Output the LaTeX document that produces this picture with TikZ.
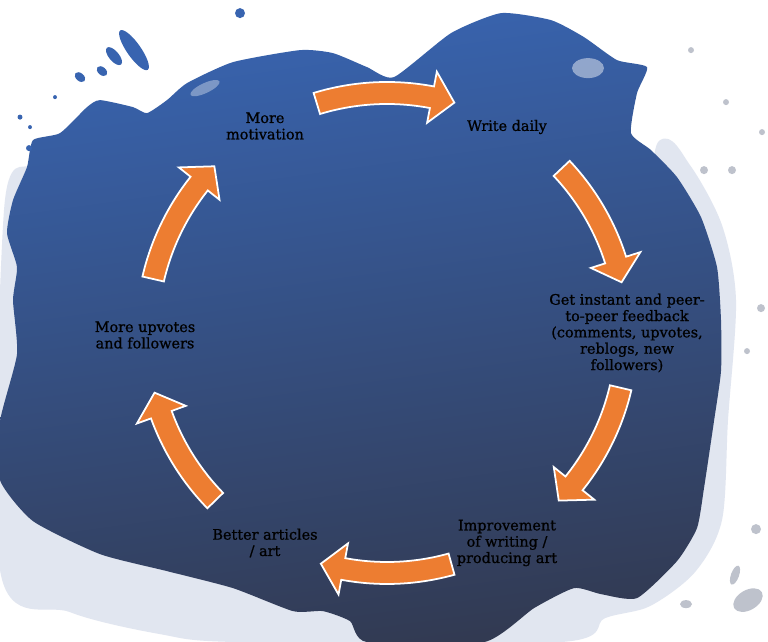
\documentclass[tikz,border=0pt]{standalone}
\usepackage{fontspec}
\setmainfont{DejaVu Serif}
\newfontfamily\stagefont[FakeBold=0.9]{DejaVu Serif}
\usetikzlibrary{calc}
\definecolor{splashtop}{RGB}{56,100,176}
\definecolor{splashbot}{RGB}{50,58,82}
\definecolor{cycleorange}{RGB}{237,125,49}
\definecolor{speck}{RGB}{170,184,214}
\definecolor{greydrop}{RGB}{190,194,204}

\tikzset{
  stage/.style={align=center, font=\stagefont\fontsize{8.2}{9.3}\selectfont, text=black, inner sep=1pt},
  bentarrow/.style={fill=cycleorange, draw=white, line width=1pt, line join=miter},
}
% curved block arrow on the cycle: #1 tail angle, #2 tip angle
\newcommand{\cyclearrow}[2]{%
  \pgfmathsetmacro{\headbase}{#2+5.5}%
  \draw[bentarrow] ($(C)+(#1:251)$) arc[start angle=#1, end angle=\headbase, radius=251]
    -- ($(C)+(\headbase:266)$) -- ($(C)+(#2:240)$) -- ($(C)+(\headbase:214)$)
    -- ($(C)+(\headbase:229)$) arc[start angle=\headbase, end angle=#1, radius=229] -- cycle;}

\begin{document}
\begin{tikzpicture}[x=0.02cm, y=0.02cm]
\fill[white] (0,0) rectangle (768,642);
\useasboundingbox (0,0) rectangle (768,642);

% Splash (pixel coordinates, y down)
\begin{scope}[y=-0.02cm, shift={(0cm,12.84cm)}]
  % speckled fringe, left, bottom and right
  \fill[speck, opacity=0.35] plot[smooth cycle, tension=0.5] coordinates {
    (30,165) (4,210) (0,570) (70,612) (160,634) (240,642) (560,642)
    (605,618) (650,606) (695,572) (722,520) (728,420) (736,300) (722,225)
    (690,165) (660,140) (600,220) (200,220) (60,170)};
  % main blob
  \shade[top color=splashtop, bottom color=splashbot, shading angle=8]
    plot[smooth cycle, tension=0.35] coordinates {
    (13,300) (17,267) (7,233) (13,200) (27,167) (33,140) (60,133) (87,107)
    (100,100) (133,107) (147,113) (167,100) (187,83) (233,62) (300,50)
    (333,53) (367,67) (394,77) (451,33) (501,13) (551,20) (584,37) (617,60)
    (647,67) (637,93) (631,133) (651,150) (677,177) (701,217) (717,267)
    (721,320) (721,371) (714,421) (704,488) (697,528) (677,561) (637,598)
    (601,594) (574,588) (534,608) (484,642) (367,642) (350,621) (323,611)
    (293,611) (233,588) (167,571) (100,554) (33,521) (0,480) (0,421) (17,354)};
  % light patches
  \fill[white, opacity=0.35] (205,88) ellipse[x radius=16, y radius=5, rotate=25];
  \fill[white, opacity=0.45] (588,68) ellipse[x radius=16, y radius=10];
  \fill[white, opacity=0.3] (380,50) ellipse[x radius=14, y radius=12];
  % drips
  \fill[splashtop] (134,50) ellipse[x radius=24, y radius=7, rotate=-55];
  \fill[splashtop] (114,56) ellipse[x radius=11, y radius=5, rotate=-50];
  \fill[splashtop] (102,71) ellipse[x radius=6, y radius=4, rotate=-40];
  \fill[splashtop] (80,77) ellipse[x radius=6, y radius=4, rotate=-40];
  \fill[splashtop] (240,13) circle[radius=5];
  \fill[splashtop] (55,97) circle[radius=2];
  \fill[splashtop] (20,117) circle[radius=2.5];
  \fill[splashtop] (30,127) circle[radius=2];
  \fill[splashtop] (29,148) circle[radius=3];
  % grey drops
  \fill[greydrop] (691,50) circle[radius=3];
  \fill[greydrop] (726,102) circle[radius=3];
  \fill[greydrop] (704,170) circle[radius=4];
  \fill[greydrop] (732,170) circle[radius=4];
  \fill[greydrop] (762,132) circle[radius=3];
  \fill[greydrop] (761,308) circle[radius=4];
  \fill[greydrop] (747,351) circle[radius=3];
  \fill[greydrop] (756,529) circle[radius=5];
  \fill[greydrop] (686,604) ellipse[x radius=6, y radius=4];
  \fill[greydrop] (748,600) ellipse[x radius=16, y radius=10, rotate=30];
  \fill[greydrop] (735,575) ellipse[x radius=4, y radius=10, rotate=-20];
\end{scope}

\coordinate (C) at (387,309);

% Stages
\node[stage] (motivation)  at (265,516) {More\\motivation};
\node[stage] (writedaily)  at (507,515) {Write daily};
\node[stage] (feedback)    at (627,309) {Get instant and peer-\\to-peer feedback\\(comments, upvotes,\\reblogs, new\\followers)};
\node[stage] (improvement) at (507,99)  {Improvement\\of writing /\\producing art};
\node[stage] (better)      at (265,99)  {Better articles\\/ art};
\node[stage] (upvotes)     at (145,307) {More upvotes\\and followers};

% Arrows
\cyclearrow{107}{73.7}
\cyclearrow{43.3}{12.2}
\cyclearrow{-13.2}{-44.3}
\cyclearrow{-74.4}{-106}
\cyclearrow{-135.7}{-165.6}
\cyclearrow{167}{136}
\end{tikzpicture}
\end{document}
